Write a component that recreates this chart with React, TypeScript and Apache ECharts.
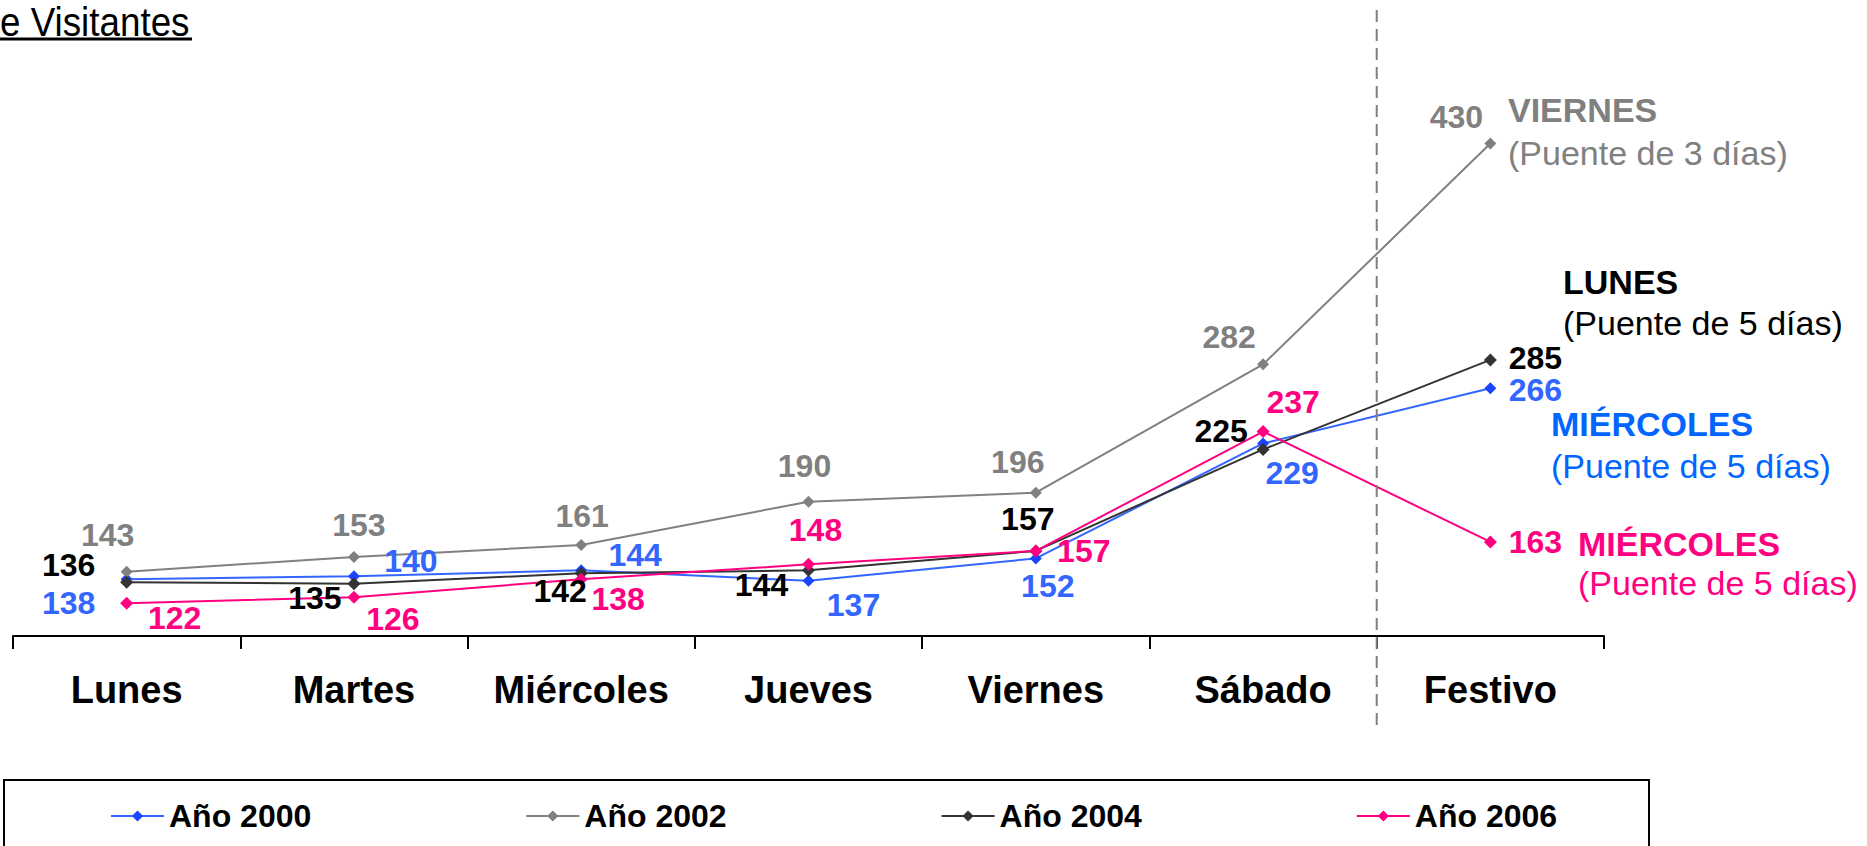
import React, { useEffect, useRef } from "react";
import * as echarts from "echarts";

const categories = ["Lunes", "Martes", "Miércoles", "Jueves", "Viernes", "Sábado", "Festivo"];
const seriesNames = ["Año 2000", "Año 2002", "Año 2004", "Año 2006"];
const values2000 = [138, 140, 144, 137, 152, 229, 266];
const values2002 = [143, 153, 161, 190, 196, 282, 430];
const values2004 = [136, 135, 142, 144, 157, 225, 285];
const values2006 = [122, 126, 138, 148, 157, 237, 163];
const yMin = 100;
const yMax = 500;

const titleText = "e Visitantes";
const annotations = [
  { lines: ["VIERNES", "(Puente de 3 días)"], color: "#808080" },
  { lines: ["LUNES", "(Puente de 5 días)"], color: "#000000" },
  { lines: ["MIÉRCOLES", "(Puente de 5 días)"], color: "#0066FF" },
  { lines: ["MIÉRCOLES", "(Puente de 5 días)"], color: "#FF0080" },
];

// label offsets (layout only)
const offsets2000 = [[-58, 24], [57, -15], [54, -15], [45, 24], [12, 28], [29, 30], [45, 2]];
const offsets2002 = [[-19, -37], [5, -32], [1, -29], [-4, -36], [-18, -31], [-34, -27], [-34, -26]];
const offsets2004 = [[-58, -17], [-39, 14], [-21, 18], [-47, 15], [-8, -32], [-42, -18], [45, -2]];
const offsets2006 = [[48, 15], [39, 22], [37, 20], [7, -34], [48, 0], [30, -30], [45, 0]];
const annotationPos = [
  [1508, 110, 153],
  [1563, 282, 323],
  [1551, 424, 466],
  [1578, 544, 583],
];

const FONT = "'Liberation Sans', Arial, sans-serif";

export default function App() {
  const ref = useRef<HTMLDivElement>(null);
  useEffect(() => {
    if (!ref.current) return;
    const chart = echarts.init(ref.current, null, { renderer: "svg" });
    const styles = [
      { values: values2000, offsets: offsets2000, line: "#3366FF", marker: "#1a44ff", label: "#3366FF", size: 12 },
      { values: values2002, offsets: offsets2002, line: "#808080", marker: "#808080", label: "#808080", size: 12 },
      { values: values2004, offsets: offsets2004, line: "#333333", marker: "#333333", label: "#000000", size: 13 },
      { values: values2006, offsets: offsets2006, line: "#FF0080", marker: "#FF0080", label: "#FF0080", size: 13 },
    ];
    const series = styles.map((s, k) => ({
      name: seriesNames[k],
      type: "line",
      symbol: "diamond",
      symbolSize: s.size,
      showSymbol: true,
      lineStyle: { color: s.line, width: 2 },
      itemStyle: { color: s.marker },
      label: {
        show: true,
        position: "inside",
        fontSize: 32,
        fontWeight: "bold",
        fontFamily: FONT,
        color: s.label,
      },
      data: s.values.map((v, i) => ({ value: v, label: { offset: s.offsets[i] } })),
    }));
    chart.setOption({
      animation: false,
      grid: { left: 13, right: 263, top: 39, bottom: 210, containLabel: false, outerBoundsMode: "none" },
      xAxis: {
        type: "category",
        data: categories,
        boundaryGap: true,
        axisLine: { lineStyle: { color: "#000", width: 2 } },
        axisTick: { show: true, length: 13, interval: 0, lineStyle: { color: "#000", width: 2 } },
        axisLabel: { interval: 0, fontSize: 38, fontWeight: "bold", color: "#000", margin: 35, fontFamily: FONT },
      },
      yAxis: { type: "value", min: yMin, max: yMax, show: false },
      legend: {
        data: seriesNames,
        left: 110,
        top: 800,
        padding: 0,
        itemWidth: 53,
        itemHeight: 14,
        itemGap: 214,
        textStyle: { fontSize: 32, fontWeight: "bold", color: "#000", fontFamily: FONT },
      },
      series,
    });
    const xa = chart.convertToPixel({ xAxisIndex: 0 }, categories[5]) as number;
    const xb = chart.convertToPixel({ xAxisIndex: 0 }, categories[6]) as number;
    const mid = (xa + xb) / 2;
    const graphics: any[] = [
      {
        type: "text",
        x: 0,
        y: 22,
        scaleX: 0.92,
        style: { text: titleText, fontSize: 40, fontFamily: FONT, fill: "#000", verticalAlign: "middle", align: "left" },
      },
      { type: "line", shape: { x1: 0, y1: 39, x2: 192, y2: 39 }, style: { stroke: "#000", lineWidth: 3 } },
      {
        type: "line",
        shape: { x1: mid, y1: 10, x2: mid, y2: 730 },
        style: { stroke: "#808080", lineWidth: 2, lineDash: [12, 7] },
        z: 10,
      },
      { type: "rect", shape: { x: 4, y: 780, width: 1645, height: 80 }, style: { fill: "none", stroke: "#000", lineWidth: 2 } },
    ];
    annotations.forEach((a, i) => {
      const [x, y1, y2] = annotationPos[i];
      graphics.push({
        type: "text",
        x,
        y: y1,
        style: { text: a.lines[0], fontSize: 34, fontWeight: "bold", fontFamily: FONT, fill: a.color, verticalAlign: "middle", align: "left" },
      });
      graphics.push({
        type: "text",
        x,
        y: y2,
        style: { text: a.lines[1], fontSize: 34, fontFamily: FONT, fill: a.color, verticalAlign: "middle", align: "left" },
      });
    });
    chart.setOption({ graphic: graphics });
    return () => chart.dispose();
  }, []);
  return <div ref={ref} style={{ position: "absolute", left: 0, top: 0, width: 1867, height: 846 }} />;
}
